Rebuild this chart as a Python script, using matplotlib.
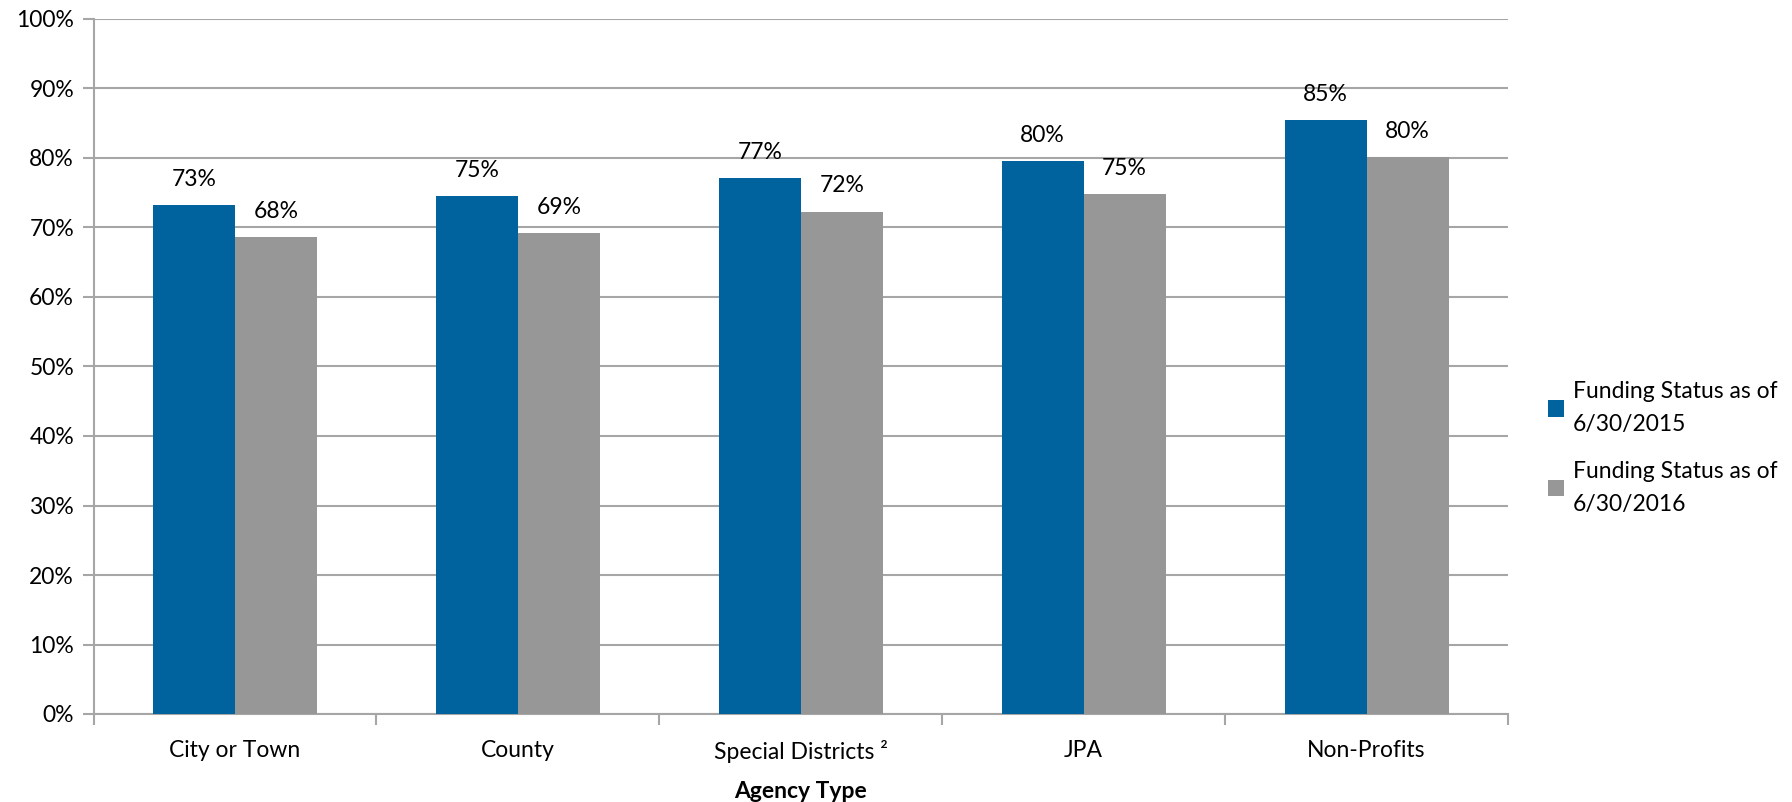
import numpy as np
import matplotlib
matplotlib.use("Agg")
import matplotlib.pyplot as plt
from matplotlib.ticker import FixedLocator, PercentFormatter

plt.rcParams['font.family'] = ['Lato', 'DejaVu Sans']

categories = ["City or Town", "County", "Special Districts \u00b2", "JPA", "Non-Profits"]
status_2015 = [73.2, 74.5, 77.1, 79.6, 85.4]
status_2016 = [68.6, 69.2, 72.3, 74.8, 80.1]
labels_2015 = ["73%", "75%", "77%", "80%", "85%"]
labels_2016 = ["68%", "69%", "72%", "75%", "80%"]
series_names = ["Funding Status as of\n6/30/2015", "Funding Status as of\n6/30/2016"]

blue = "#00639E"
gray = "#969796"
grid_c = "#A6A6A6"
fs = 16.5

fig = plt.figure(figsize=(17.92, 8.02), dpi=100)
ax = fig.add_axes([93.5 / 1792, 1 - 714 / 802, (1508 - 93.5) / 1792, (714 - 19) / 802])

x = np.arange(len(categories))
w = 0.29
b1 = ax.bar(x - w / 2, status_2015, w, color=blue, zorder=3)
b2 = ax.bar(x + w / 2, status_2016, w, color=gray, zorder=3)

for bars, labs in ((b1, labels_2015), (b2, labels_2016)):
    for r, t in zip(bars, labs):
        ax.annotate(t, (r.get_x() + r.get_width() / 2, r.get_height()),
                    xytext=(0, 11), textcoords="offset points",
                    ha="center", va="bottom", fontsize=fs)

ax.set_xlim(-0.5, len(categories) - 0.5)
ax.set_ylim(0, 100)
ax.set_yticks(np.arange(0, 101, 10))
ax.yaxis.set_major_formatter(PercentFormatter(decimals=0))
ax.yaxis.grid(True, color=grid_c, linewidth=1.5, zorder=0)

ax.xaxis.set_major_locator(FixedLocator(np.arange(-0.5, len(categories), 1)))
ax.xaxis.set_major_formatter(matplotlib.ticker.NullFormatter())
ax.xaxis.set_minor_locator(FixedLocator(x))
ax.set_xticklabels(categories, minor=True)
ax.tick_params(axis="x", which="minor", length=0, pad=19, labelsize=fs)
ax.tick_params(axis="x", which="major", length=8, color=grid_c, width=1.5, direction="out")
ax.tick_params(axis="y", length=8, color=grid_c, width=1.5, labelsize=fs, pad=6)

for s in ("top", "right"):
    ax.spines[s].set_visible(False)
for s in ("left", "bottom"):
    ax.spines[s].set_color(grid_c)
    ax.spines[s].set_linewidth(1.5)

ax.set_xlabel("Agency Type", fontsize=fs, fontweight="bold", labelpad=13)

leg = fig.legend([b1, b2], series_names, loc="center left",
                 bbox_to_anchor=(1527 / 1792, 1 - 448 / 802), frameon=False,
                 fontsize=fs, handlelength=0.7, handleheight=0.7,
                 handletextpad=0.4, labelspacing=1.1)
for t in leg.get_texts():
    t.set_linespacing(1.75)

fig.savefig("out.png", dpi=100)
